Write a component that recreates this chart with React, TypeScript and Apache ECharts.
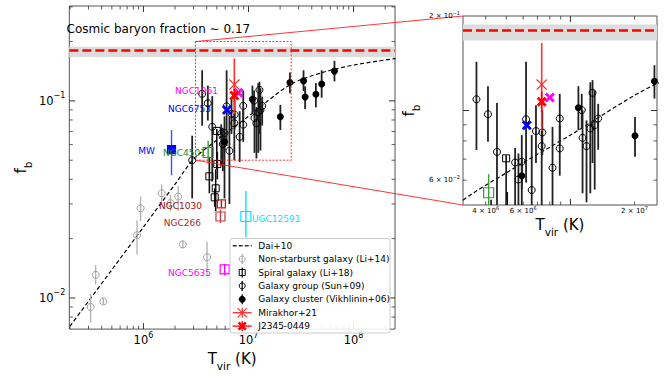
import React, { useEffect, useRef } from 'react';
import * as echarts from 'echarts';

const FONT = 'DejaVu Sans, sans-serif';

// ---------- Dai+10 model curve ----------
const daiT = [2e5, 5e5, 1e6, 2e6, 3e6, 5e6, 1e7, 2.5e7, 5e7, 1e8, 2.5e8];
const daiFb = [0.0072, 0.0139, 0.0229, 0.0378, 0.0506, 0.0633, 0.0835, 0.121, 0.139, 0.152, 0.164];

// cosmic baryon fraction line and band
const cosmicFb = 0.177;
const cosmicBand = [0.167, 0.188];

// ---------- Non-starburst galaxy (Li+14) ----------
const liT = [3.14e5, 3.51e5, 4.15e5, 8.69e5, 9.39e5, 1.49e6, 1.81e6, 2.14e6, 2.37e6, 4.03e6];
const liFb = [0.009, 0.0131, 0.0096, 0.0208, 0.0285, 0.034, 0.0303, 0.0327, 0.0187, 0.0161];
const liLo = [0.0075, 0.0117, 0.0093, 0.0166, 0.0246, 0.0307, 0.0276, 0.0276, 0.0179, 0.0129];
const liHi = [0.0105, 0.0147, 0.01, 0.0248, 0.0327, 0.0377, 0.0333, 0.037, 0.0195, 0.0193];

// ---------- Spiral galaxy (Li+18) ----------
const spT = [4.24e6, 4.77e6, 4.87e6, 4.99e6, 5.05e6];
const spFb = [0.0414, 0.0324, 0.036, 0.0704, 0.0478];
const spLo = [0.034, 0.029, 0.0276, 0.045, 0.04];
const spHi = [0.052, 0.036, 0.045, 0.072, 0.055];

// ---------- Galaxy group (Sun+09) ----------
const grT = [2.91e6, 3.62e6, 4.1e6, 4.52e6, 5.5e6, 5.7e6, 5.91e6, 6.19e6, 6.58e6, 6.89e6, 7.38e6, 7.33e6, 8.24e6, 8.91e6, 8.91e6, 1.13e7, 1.14e7, 1.19e7, 1.24e7, 1.27e7, 1.3e7, 1.35e7];
const grFb = [0.05, 0.1086, 0.0973, 0.0738, 0.0683, 0.0603, 0.0687, 0.0938, 0.0558, 0.086, 0.0851, 0.077, 0.0657, 0.0943, 0.0757, 0.1003, 0.0818, 0.077, 0.0877, 0.1138, 0.0898, 0.0943];
const grLo = [0.032, 0.0748, 0.0795, 0.039, 0.047, 0.044, 0.032, 0.059, 0.03, 0.068, 0.072, 0.05, 0.049, 0.078, 0.062, 0.088, 0.0545, 0.051, 0.0545, 0.068, 0.056, 0.075];
const grHi = [0.0666, 0.143, 0.1195, 0.1057, 0.076, 0.073, 0.0835, 0.143, 0.0835, 0.104, 0.1, 0.086, 0.0887, 0.113, 0.09, 0.113, 0.1003, 0.093, 0.123, 0.125, 0.116, 0.105];

// ---------- Galaxy cluster (Vikhlinin+06) ----------
const clT = [5.91e6, 1.09e7, 2.01e7, 2.48e7, 3.34e7, 3.46e7, 4.38e7, 4.97e7, 6.58e7];
const clFb = [0.062, 0.102, 0.0831, 0.124, 0.1263, 0.1046, 0.108, 0.1217, 0.1416];
const clLo = [0.056, 0.0866, 0.0712, 0.1092, 0.112, 0.091, 0.0927, 0.1038, 0.1256];
const clHi = [0.07, 0.1195, 0.0954, 0.1394, 0.143, 0.1185, 0.123, 0.143, 0.1597];

// ---------- Mirakhor+21 and J2345-0449 ----------
const mirT = [7.33e6];
const mirFb = [0.121];
const mirLo = [0.086];
const mirHi = [0.164];
const jT = [7.33e6];
const jFb = [0.1066];
const jLo = [0.099];
const jHi = [0.115];

// ---------- labelled galaxies ----------
const labName = ['MW', 'NGC4501', 'NGC1030', 'NGC266', 'UGC12591', 'NGC5635', 'NGC6753', 'NGC1961'];
const labT = [1.85e6, 4.13e6, 5.52e6, 5.41e6, 9.44e6, 5.93e6, 6.24e6, 8.0e6];
const labFb = [0.0566, 0.0547, 0.03, 0.0259, 0.0259, 0.01395, 0.0898, 0.11];
const labLo = [0.0419, 0.0478, 0.0287, 0.024, 0.0204, 0.013, null, null];
const labHi = [0.0711, 0.0627, 0.0313, 0.028, 0.0349, 0.0149, null, null];

// ---------- axes ----------
const mainX = [1.97e5, 2.48e8];
const mainY = [0.00695, 0.303];
const insetX = [3.13e6, 2.55e7];
const insetY = [0.05, 0.2];
const mainXMajor = [1e6, 1e7, 1e8];
const mainXMinor = [2e5, 3e5, 4e5, 5e5, 6e5, 7e5, 8e5, 9e5, 2e6, 3e6, 4e6, 5e6, 6e6, 7e6, 8e6, 9e6, 2e7, 3e7, 4e7, 5e7, 6e7, 7e7, 8e7, 9e7, 2e8];
const mainYMajor = [0.01, 0.1];
const mainYMinor = [0.008, 0.009, 0.02, 0.03, 0.04, 0.05, 0.06, 0.07, 0.08, 0.09, 0.2, 0.3];
const insetXMajor = [1e7];
const insetXMinor = [4e6, 5e6, 6e6, 7e6, 8e6, 9e6, 2e7];
const insetYMajor = [0.1];
const insetYMinor = [0.06, 0.07, 0.08, 0.09, 0.2];
const insetXLabels = [{ v: 4e6, m: '4', e: '6' }, { v: 6e6, m: '6', e: '6' }, { v: 2e7, m: '2', e: '7' }];
const insetYLabels = [{ v: 0.2, m: '2', e: '−1' }, { v: 0.06, m: '6', e: '−2' }];

// ---------- styles ----------
const X_FILLED = [[0, 2], [2, 0], [5, 3], [8, 0], [10, 2], [7, 5], [10, 8], [8, 10], [5, 7], [2, 10], [0, 8], [3, 5]];
const X_THIN = [[0, 0.8], [0.8, 0], [5, 4.2], [9.2, 0], [10, 0.8], [5.8, 5], [10, 9.2], [9.2, 10], [5, 5.8], [0.8, 10], [0, 9.2], [4.2, 5]];
const toPath = (pts: number[][]) => 'path://M' + pts.map((p) => p[0] + ',' + p[1]).join('L') + 'Z';
const SYM_X = toPath(X_FILLED);
const SYM_XT = toPath(X_THIN);
const NONE = 'rgba(0,0,0,0)';

const labStyle = [
  { symbol: 'rect', size: 8, fill: '#0000ff', border: '#0000ff', bar: '#3355ff', text: '#0000ff', lx: 155, ly: 150.7 },
  { symbol: 'rect', size: 10, fill: NONE, border: '#3a9a3a', bar: '#3a9a3a', text: '#1f8a1f', lx: 206, ly: 152.7 },
  { symbol: 'rect', size: 8, fill: NONE, border: '#ff0000', bar: '#b01010', text: '#9b1010', lx: 202, ly: 206 },
  { symbol: 'rect', size: 9, fill: NONE, border: '#c04040', bar: '#c04040', text: '#a52a2a', lx: 201, ly: 222.7 },
  { symbol: 'rect', size: 10, fill: NONE, border: '#00e5ff', bar: '#00e5ff', text: '#00e5ff', lx: 252, ly: 219.3, left: true },
  { symbol: 'rect', size: 9, fill: NONE, border: '#ff00ff', bar: '#ff00ff', text: '#ff00ff', lx: 211, ly: 273 },
  { symbol: SYM_X, size: 10, fill: '#0000ff', border: NONE, bar: '#0000ff', text: '#0000ff', lx: 211, ly: 109.3 },
  { symbol: SYM_X, size: 10, fill: '#ff00ff', border: NONE, bar: '#ff00ff', text: '#ff00ff', lx: 218, ly: 91.3 },
];

const supExp = (e: number) => (e < 0 ? '−' + -e : '' + e);
const majorFmt = (v: number) => {
  const l = Math.log10(v);
  const e = Math.round(l);
  if (Math.abs(l - e) > 1e-6) return '';
  return `{b|10}{s|${supExp(e)}}`;
};
const tickRich = {
  b: { fontFamily: FONT, fontSize: 11.5, color: '#000', lineHeight: 18 },
  s: { fontFamily: FONT, fontSize: 8, color: '#000', lineHeight: 8, verticalAlign: 'top' },
};
const nameRich = {
  a: { fontFamily: FONT, fontSize: 15, color: '#000', lineHeight: 20, verticalAlign: 'top' },
  s: { fontFamily: FONT, fontSize: 10.5, color: '#000', lineHeight: 12, verticalAlign: 'bottom' },
};

function errSeries(gi: number, T: number[], L: (number | null)[], H: (number | null)[], color: string, width: number, z: number) {
  const data: number[][] = [];
  T.forEach((t, i) => {
    if (L[i] != null && H[i] != null) data.push([t, L[i] as number, H[i] as number]);
  });
  return {
    type: 'custom',
    xAxisIndex: gi,
    yAxisIndex: gi,
    silent: true,
    z,
    data,
    encode: { x: 0, y: [1, 2] },
    renderItem: (params: any, api: any) => {
      const cs = params.coordSys;
      const p1 = api.coord([api.value(0), api.value(1)]);
      const p2 = api.coord([api.value(0), api.value(2)]);
      if (p1[0] < cs.x - 0.5 || p1[0] > cs.x + cs.width + 0.5) return { type: 'group', children: [] };
      const top = Math.max(Math.min(p1[1], p2[1]), cs.y);
      const bot = Math.min(Math.max(p1[1], p2[1]), cs.y + cs.height);
      if (bot <= top) return { type: 'group', children: [] };
      return { type: 'line', shape: { x1: p1[0], y1: top, x2: p1[0], y2: bot }, style: { stroke: color, lineWidth: width } };
    },
  };
}

function scatter(gi: number, T: number[], F: number[], symbol: string, size: number, fill: string, border: string, bw: number, z: number) {
  return {
    type: 'scatter',
    xAxisIndex: gi,
    yAxisIndex: gi,
    silent: true,
    clip: true,
    z,
    symbol,
    symbolSize: size,
    itemStyle: { color: fill, borderColor: border, borderWidth: bw, opacity: 1 },
    data: T.map((t, i) => [t, F[i]]),
  };
}

function seriesFor(gi: number) {
  const s: any[] = [];
  s.push({
    type: 'line',
    xAxisIndex: gi,
    yAxisIndex: gi,
    silent: true,
    clip: true,
    z: 3,
    data: daiT.map((t, i) => [t, daiFb[i]]),
    smooth: 0.3,
    symbol: 'none',
    lineStyle: { color: '#000', width: 1.2, type: [4, 2.5] },
    markArea: { silent: true, itemStyle: { color: '#dcdcdc' }, data: [[{ yAxis: cosmicBand[0] }, { yAxis: cosmicBand[1] }]] },
    markLine: {
      silent: true,
      symbol: ['none', 'none'],
      label: { show: false },
      lineStyle: { color: '#ff0000', width: 2.5, type: [9, 4] },
      data: [{ yAxis: cosmicFb }],
    },
  });
  s.push(errSeries(gi, liT, liLo, liHi, '#b0b0b0', 1.3, 4));
  s.push(scatter(gi, liT, liFb, 'circle', 7, NONE, '#a0a0a0', 1, 5));
  s.push(errSeries(gi, spT, spLo, spHi, '#111', 1.6, 4));
  s.push(scatter(gi, spT, spFb, 'rect', 7, NONE, '#000', 1, 5));
  s.push(errSeries(gi, grT, grLo, grHi, '#222', 1.8, 4));
  s.push(scatter(gi, grT, grFb, 'circle', 7, NONE, '#000', 1, 5));
  s.push(errSeries(gi, clT, clLo, clHi, '#222', 1.8, 4));
  s.push(scatter(gi, clT, clFb, 'circle', 7, '#000', '#000', 0, 5));
  labName.forEach((_, i) => {
    const st = labStyle[i];
    s.push(errSeries(gi, [labT[i]], [labLo[i]], [labHi[i]], st.bar, 1.4, 6));
    s.push(scatter(gi, [labT[i]], [labFb[i]], st.symbol, st.size, st.fill, st.border, 1.2, 7));
  });
  s.push(errSeries(gi, mirT, mirLo, mirHi, '#ff3030', 1.6, 8));
  s.push(scatter(gi, mirT, mirFb, SYM_XT, 11, '#ff3030', NONE, 0, 9));
  s.push(errSeries(gi, jT, jLo, jHi, '#ff0000', 1.6, 8));
  s.push(scatter(gi, jT, jFb, SYM_X, 10, '#ff0000', NONE, 0, 9));
  return s;
}

function buildOption() {
  const frame = { show: true, borderColor: '#555', borderWidth: 1, backgroundColor: '#fff', containLabel: false };
  return {
    animation: false,
    grid: [
      { ...frame, left: 54, top: 6, width: 341, height: 332 },
      { ...frame, left: 463, top: 16, width: 194, height: 189 },
    ],
    xAxis: [
      {
        type: 'log', logBase: 10, gridIndex: 0, min: mainX[0], max: mainX[1],
        axisLine: { show: false }, axisTick: { show: false }, splitLine: { show: false },
        axisLabel: { formatter: majorFmt, rich: tickRich, margin: 2, showMinLabel: false, showMaxLabel: false },
        name: '{a|T}{s|vir}{a| (K)}', nameLocation: 'middle', nameGap: 16,
        nameTextStyle: { rich: nameRich },
      },
      {
        type: 'log', logBase: 10, gridIndex: 1, min: insetX[0], max: insetX[1],
        axisLine: { show: false }, axisTick: { show: false }, splitLine: { show: false },
        axisLabel: { show: false },
        name: '{a|T}{s|vir}{a| (K)}', nameLocation: 'middle', nameGap: 12,
        nameTextStyle: { rich: nameRich },
      },
    ],
    yAxis: [
      {
        type: 'log', logBase: 10, gridIndex: 0, min: mainY[0], max: mainY[1],
        axisLine: { show: false }, axisTick: { show: false }, splitLine: { show: false },
        axisLabel: { formatter: majorFmt, rich: tickRich, margin: 4, showMinLabel: false, showMaxLabel: false },
        name: '{a|f}{s|b}', nameLocation: 'middle', nameGap: 36,
        nameTextStyle: { rich: nameRich },
      },
      {
        type: 'log', logBase: 10, gridIndex: 1, min: insetY[0], max: insetY[1],
        axisLine: { show: false }, axisTick: { show: false }, splitLine: { show: false },
        axisLabel: { show: false },
        name: '{a|f}{s|b}', nameLocation: 'middle', nameGap: 42,
        nameTextStyle: { rich: nameRich },
      },
    ],
    series: [...seriesFor(0), ...seriesFor(1)],
  };
}

function buildGraphic(chart: any) {
  const P = (gi: number, x: number, y: number) => chart.convertToPixel({ gridIndex: gi }, [x, y]) as number[];
  const els: any[] = [];
  const line = (x1: number, y1: number, x2: number, y2: number, stroke: string, w: number, z = 60, dash?: number[]) =>
    els.push({ type: 'line', silent: true, z, shape: { x1, y1, x2, y2 }, style: { stroke, lineWidth: w, lineDash: dash } });
  const text = (x: number, y: number, t: string, size: number, color: string, align = 'left', rich?: any) =>
    els.push({
      type: 'text', silent: true, z: 70, x, y,
      style: { text: t, fill: color, font: `${size}px ${FONT}`, align, verticalAlign: 'middle', rich },
    });

  const ticks = (gi: number, xr: number[], yr: number[], xMaj: number[], xMin: number[], yMaj: number[], yMin: number[]) => {
    const [L, B] = P(gi, xr[0], yr[0]);
    const [R, T] = P(gi, xr[1], yr[1]);
    const c = '#333';
    const xs = (vals: number[], len: number, w: number) =>
      vals.filter((v) => v > xr[0] && v < xr[1]).forEach((v) => {
        const X = P(gi, v, yr[0])[0];
        line(X, B, X, B - len, c, w);
        line(X, T, X, T + len, c, w);
      });
    const ys = (vals: number[], len: number, w: number) =>
      vals.filter((v) => v > yr[0] && v < yr[1]).forEach((v) => {
        const Y = P(gi, xr[0], v)[1];
        line(L, Y, L + len, Y, c, w);
        line(R, Y, R - len, Y, c, w);
      });
    xs(xMaj, 6, 1);
    xs(xMin, 3.5, 0.8);
    ys(yMaj, 6, 1);
    ys(yMin, 3.5, 0.8);
  };
  ticks(0, mainX, mainY, mainXMajor, mainXMinor, mainYMajor, mainYMinor);
  ticks(1, insetX, insetY, insetXMajor, insetXMinor, insetYMajor, insetYMinor);

  // inset tick labels
  const smallRich = {
    m: { fontFamily: FONT, fontSize: 7, color: '#000', lineHeight: 11 },
    e: { fontFamily: FONT, fontSize: 5, color: '#000', lineHeight: 6, verticalAlign: 'top' },
  };
  const [iL, iB] = P(1, insetX[0], insetY[0]);
  insetXLabels.forEach((o) => {
    const X = P(1, o.v, insetY[0])[0];
    text(X, iB + 6, `{m|${o.m} × 10}{e|${o.e}}`, 7, '#000', 'center', smallRich);
  });
  insetYLabels.forEach((o) => {
    const Y = P(1, insetX[0], o.v)[1];
    text(iL - 3, Y, `{m|${o.m} × 10}{e|${o.e}}`, 7, '#000', 'right', smallRich);
  });

  // cosmic text
  text(66.5, 28.5, 'Cosmic baryon fraction ∼ 0.17', 12, '#000');

  // galaxy labels
  labName.forEach((n, i) => {
    const st: any = labStyle[i];
    text(st.lx, st.ly, n, 9, st.text, st.left ? 'left' : 'right');
  });

  // zoom rectangle and connectors
  const tl = P(0, insetX[0], insetY[1]);
  const br = P(0, insetX[1], insetY[0]);
  els.push({
    type: 'rect', silent: true, z: 55,
    shape: { x: tl[0], y: tl[1], width: br[0] - tl[0], height: br[1] - tl[1] },
    style: { fill: 'none', stroke: '#ff2020', lineWidth: 0.9, lineDash: [2, 1.5] },
  });
  const itl = P(1, insetX[0], insetY[1]);
  const ibl = P(1, insetX[0], insetY[0]);
  line(tl[0], tl[1], itl[0], itl[1], '#ff2020', 0.9, 56);
  line(tl[0], br[1], ibl[0], ibl[1], '#ff2020', 0.9, 56);

  // legend
  const lx = 230, ly = 238.5, lw = 160, lh = 94.5;
  els.push({ type: 'rect', silent: true, z: 80, shape: { x: lx, y: ly, width: lw, height: lh, r: 2.5 }, style: { fill: 'rgba(255,255,255,0.9)', stroke: '#cccccc', lineWidth: 1 } });
  const rows = ['Dai+10', 'Non-starburst galaxy (Li+14)', 'Spiral galaxy (Li+18)', 'Galaxy group (Sun+09)', 'Galaxy cluster (Vikhlinin+06)', 'Mirakhor+21', 'J2345-0449'];
  const hx0 = 232.7, hx1 = 251.7, hc = 242.2;
  const lz = 85;
  const poly = (pts: number[][], cx: number, cy: number, s: number, fill: string) =>
    els.push({ type: 'polygon', silent: true, z: lz + 1, shape: { points: pts.map((p) => [cx + (p[0] - 5) * s / 10, cy + (p[1] - 5) * s / 10]) }, style: { fill } });
  rows.forEach((r, i) => {
    const y = 245.7 + i * 13.4;
    els.push({ type: 'text', silent: true, z: lz, x: 258.3, y, style: { text: r, fill: '#000', font: `9px ${FONT}`, verticalAlign: 'middle', align: 'left' } });
    if (i === 0) line(hx0, y, hx1, y, '#333', 1.6, lz, [4, 2]);
    if (i >= 1 && i <= 4) {
      const col = i === 1 ? '#a8a8a8' : '#000';
      line(hc, y - 5, hc, y + 5, col, 1.2, lz);
      if (i === 2) els.push({ type: 'rect', silent: true, z: lz + 1, shape: { x: hc - 3, y: y - 3, width: 6, height: 6 }, style: { fill: 'none', stroke: col, lineWidth: 1 } });
      else els.push({ type: 'circle', silent: true, z: lz + 1, shape: { cx: hc, cy: y, r: 3 }, style: { fill: i === 4 ? '#000' : 'none', stroke: col, lineWidth: 1 } });
    }
    if (i === 5) {
      line(hx0, y, hx1, y, '#ff3030', 1.3, lz);
      line(hc, y - 5, hc, y + 5, '#ff3030', 1.3, lz);
      poly(X_THIN, hc, y, 10, '#ff3030');
    }
    if (i === 6) {
      line(hx0, y, hx1, y, '#ff0000', 1.3, lz);
      line(hc, y - 5, hc, y + 5, '#ff0000', 1.3, lz);
      poly(X_FILLED, hc, y, 9, '#ff0000');
    }
  });
  return els;
}

export default function App() {
  const ref = useRef<HTMLDivElement>(null);
  useEffect(() => {
    const el = ref.current;
    if (!el) return;
    const chart = echarts.init(el, null, { renderer: 'svg' });
    chart.setOption(buildOption() as any);
    chart.setOption({ graphic: buildGraphic(chart) } as any);
    return () => chart.dispose();
  }, []);
  return (
    <div
      ref={ref}
      style={{ position: 'absolute', left: 0, top: 0, width: 664, height: 376, background: '#fff' }}
    />
  );
}
